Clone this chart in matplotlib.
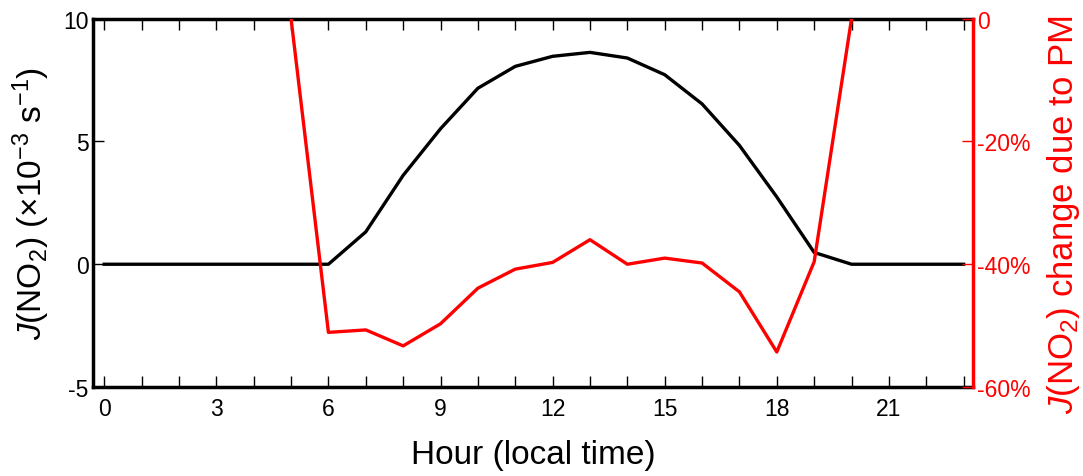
import matplotlib
matplotlib.use("Agg")
import matplotlib.pyplot as plt

plt.rcParams['font.family'] = ['Liberation Sans', 'DejaVu Sans']
plt.rcParams['mathtext.fontset'] = 'custom'
plt.rcParams['mathtext.rm'] = 'Liberation Sans'
plt.rcParams['mathtext.it'] = 'Liberation Sans:italic'
plt.rcParams['axes.unicode_minus'] = False

# J(NO2) diurnal cycle (x10^-3 s^-1)
horas = list(range(24))
j_no2 = [0, 0, 0, 0, 0, 0, 0, 1.32, 3.62, 5.52, 7.17, 8.06, 8.47, 8.63,
         8.40, 7.72, 6.53, 4.84, 2.74, 0.48, 0, 0, 0, 0]

# change due to PM (%), daytime hours only
horas_pm = list(range(5, 21))
cambio_pm = [0, -51.1, -50.7, -53.3, -49.7, -43.9, -40.8, -39.7, -36.0,
             -40.0, -39.0, -39.8, -44.5, -54.3, -39.6, 0]

xticks = [0, 3, 6, 9, 12, 15, 18, 21]
yticks_izq = [-5, 0, 5, 10]
yticks_der = [-60, -40, -20, 0]
etiquetas_der = ['-60%', '-40%', '-20%', '0']

fig = plt.figure(figsize=(10.83, 4.77), dpi=100)
ax1 = fig.add_axes([0.0859, 0.1866, 0.8125, 0.772])
ax2 = ax1.twinx()

ax1.plot(horas, j_no2, color='black', lw=2.4, solid_joinstyle='round')
ax2.plot(horas_pm, cambio_pm, color='red', lw=2.4, solid_joinstyle='round')

ax1.set_xlim(-0.3, 23.25)
ax1.set_ylim(-5, 10)
ax2.set_ylim(-60, 0)

ax1.set_xticks(xticks)
ax1.set_xticks(horas, minor=True)
ax1.set_yticks(yticks_izq)
ax1.set_yticklabels([str(v) for v in yticks_izq])
ax2.set_yticks(yticks_der)
ax2.set_yticklabels(etiquetas_der)

ax1.tick_params(axis='x', which='both', direction='in', top=True, length=8, width=1,
                labelsize=16.5, pad=7)
ax1.tick_params(axis='y', which='both', direction='in', length=8, width=1,
                labelsize=16.5, pad=3)
ax2.tick_params(axis='y', direction='in', length=8, width=1, colors='red',
                labelsize=16.5, pad=3)

for s in ax1.spines.values():
    s.set_linewidth(2.5)
for lado, s in ax2.spines.items():
    s.set_linewidth(2.5)
    if lado != 'right':
        s.set_visible(False)
ax2.spines['right'].set_color('red')
ax1.spines['right'].set_visible(False)

ax1.set_xlabel('Hour (local time)', fontsize=24, labelpad=14)
ax1.set_ylabel(r'$J$(NO$_2$) ($\times$10$^{-3}$ s$^{-1}$)', fontsize=24, labelpad=8)
ax2.set_ylabel(r'$J$(NO$_2$) change due to PM', fontsize=25, color='red')
ax2.yaxis.set_label_coords(1.082, 0.47)

fig.savefig('out.png', dpi=100)
